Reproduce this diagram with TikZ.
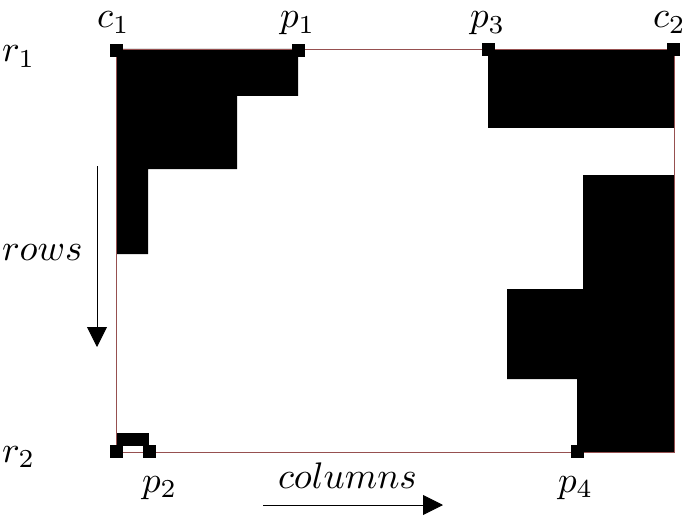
\documentclass[tikz,border=0pt]{standalone}
\usetikzlibrary{arrows.meta}
\definecolor{framered}{RGB}{150,80,80}
\begin{document}
\begin{tikzpicture}[x=1pt,y=-1pt,
  marker/.style={fill=black,draw=none,minimum size=13pt,inner sep=0pt,outer sep=0pt},
  lbl/.style={inner sep=0pt,outer sep=0pt,anchor=base west,scale=3.7},
  axisarrow/.style={line width=0.9pt,-{Triangle[width=20pt,length=20pt]}},
  blob/.style={fill=black,draw=none}]
\useasboundingbox (0,0) rectangle (685,516);
% frame corners
\coordinate (TL) at (116,49);
\coordinate (TR) at (674,49);
\coordinate (BL) at (116,452);
\coordinate (BR) at (674,452);
% black regions
\fill[blob] (116,49) -- (298,49) -- (298,96) -- (237,96) -- (237,169) -- (148,169) -- (148,254) -- (116,254) -- cycle;
\fill[blob] (488,49) rectangle (674,128);
\fill[blob] (674,175) -- (583,175) -- (583,289) -- (507,289) -- (507,379) -- (577,379) -- (577,452) -- (674,452) -- cycle;
\fill[blob] (116,433) rectangle (149,446);
% frame
\draw[framered,line width=0.8pt] (TL) rectangle (BR);
% markers
\node[marker] (mc1) at (116,51) {};
\node[marker] (mp1) at (298,51) {};
\node[marker] (mp3) at (488,50) {};
\node[marker] (mc2) at (673,50) {};
\node[marker] (mr2) at (116,451) {};
\node[marker] (mp2) at (149,451) {};
\node[marker] (mp4) at (577,451) {};
% labels
\node[lbl] (lc1) at (97,28) {$c_1$};
\node[lbl] (lp1) at (280,28) {$p_1$};
\node[lbl] (lp3) at (470,28) {$p_3$};
\node[lbl] (lc2) at (653,28) {$c_2$};
\node[lbl] (lr1) at (2,62) {$r_1$};
\node[lbl] (lr2) at (2,462) {$r_2$};
\node[lbl] (lp2) at (142,492) {$p_2$};
\node[lbl] (lp4) at (558,492) {$p_4$};
\node[lbl] (lrows) at (2,260) {$rows$};
\node[lbl] (lcols) at (278,488) {$columns$};
% axis arrows
\coordinate (rowsA) at (97,166);
\coordinate (rowsB) at (97,347);
\coordinate (colsA) at (263,505);
\coordinate (colsB) at (443,505);
\draw[axisarrow] (rowsA) -- (rowsB);
\draw[axisarrow] (colsA) -- (colsB);
\end{tikzpicture}
\end{document}
